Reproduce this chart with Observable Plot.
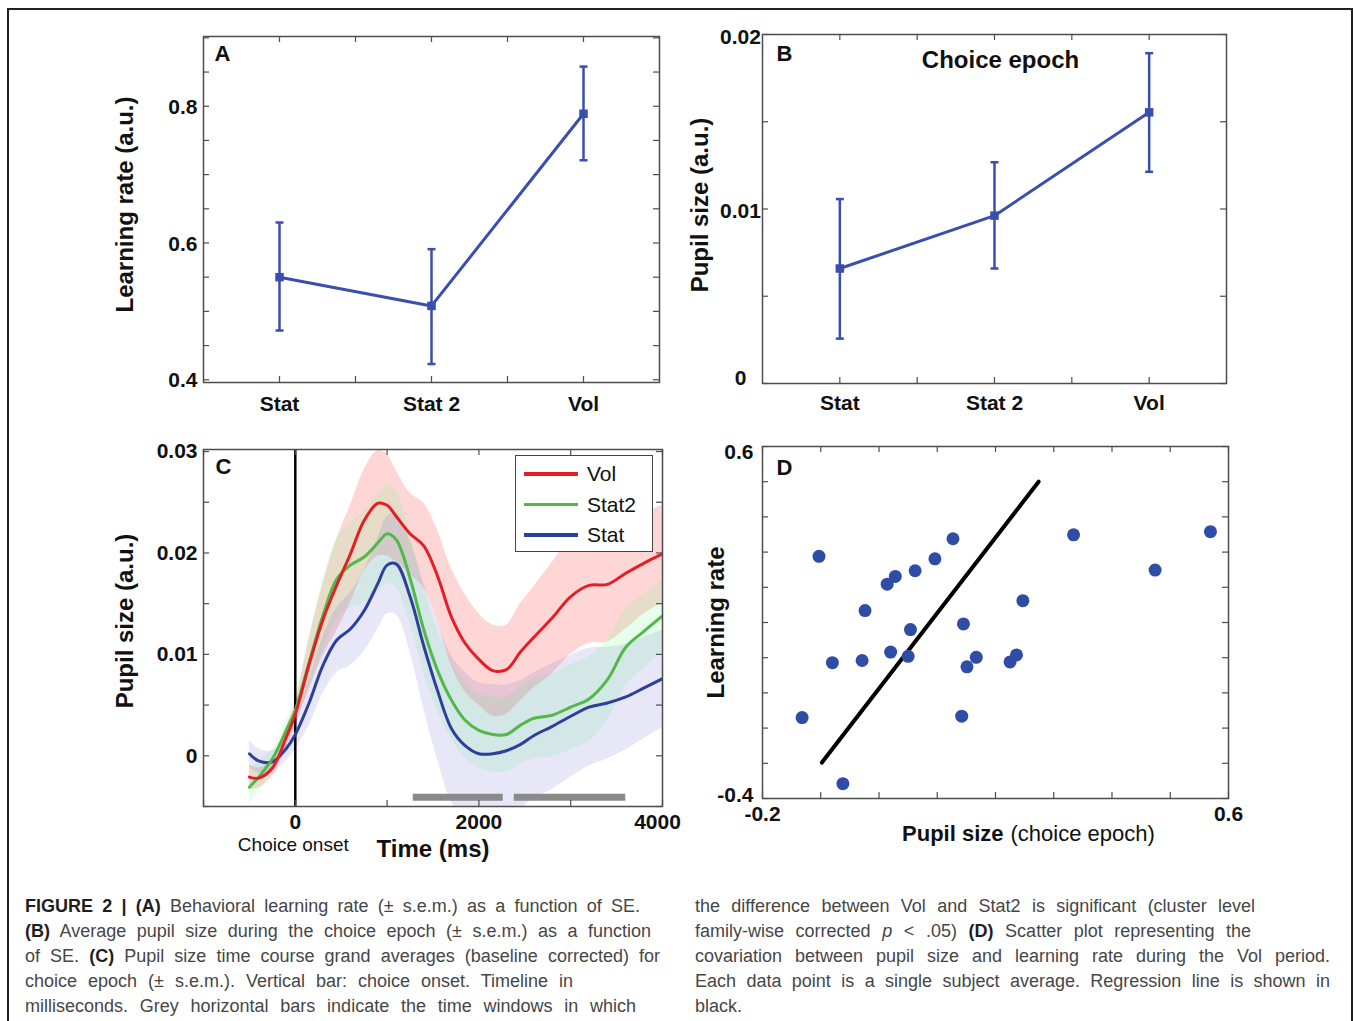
<!DOCTYPE html>
<html>
<head>
<meta charset="utf-8">
<script src="https://cdn.jsdelivr.net/npm/d3@7"></script>
<script src="https://cdn.jsdelivr.net/npm/@observablehq/plot@0.6"></script>
<style>
  html, body { margin: 0; padding: 0; background: #fff; }
  body { width: 1354px; height: 1021px; overflow: hidden; position: relative;
         font-family: "Liberation Sans", Arial, Helvetica, sans-serif; }
  #outer { position: absolute; left: 7px; top: 8px; width: 1346px; height: 1100px;
           border: 2.5px solid #231f20; border-bottom: none; box-sizing: border-box; }
  .panel { position: absolute; }
  .panel svg { overflow: visible; }
  #legendC { position: absolute; left: 515px; top: 455px; width: 138px; height: 97px;
             box-sizing: border-box; border: 1.5px solid #444; background: #fff;
             font-family: "Liberation Sans", Arial, sans-serif; font-size: 21px; color: #111; }
  #legendC .row { position: absolute; left: 0; height: 30px; width: 136px; }
  #legendC .sw { position: absolute; left: 8px; width: 54px; height: 3.5px; top: 13px; }
  #legendC .lb { position: absolute; left: 71px; top: 2px; line-height: 26px; }
  .col { position: absolute; top: 894px; font-family: "Liberation Sans", Arial, Helvetica, sans-serif;
         font-size: 18px; color: #464646; }
  .ln { height: 25px; line-height: 25px; text-align: justify; text-align-last: justify; overflow: visible; }
  .ln b { color: #1e1e1e; }
</style>
</head>
<body>
<div id="outer"></div>
<div id="pA" class="panel" style="left:100px;top:20px;width:580px;height:400px"></div>
<div id="pB" class="panel" style="left:680px;top:20px;width:560px;height:400px"></div>
<div id="pC" class="panel" style="left:100px;top:440px;width:580px;height:430px"></div>
<div id="pD" class="panel" style="left:690px;top:440px;width:560px;height:420px"></div>
<div id="legendC"></div>

<div class="col" style="left:25px">
  <div class="ln" style="width:615px"><b>FIGURE 2 | (A)</b> Behavioral learning rate (± s.e.m.) as a function of SE.</div>
  <div class="ln" style="width:626px"><b>(B)</b> Average pupil size during the choice epoch (± s.e.m.) as a function</div>
  <div class="ln" style="width:635px">of SE. <b>(C)</b> Pupil size time course grand averages (baseline corrected) for</div>
  <div class="ln" style="width:548px">choice epoch (± s.e.m.). Vertical bar: choice onset. Timeline in</div>
  <div class="ln" style="width:611px">milliseconds. Grey horizontal bars indicate the time windows in which</div>
</div>
<div class="col" style="left:695px">
  <div class="ln" style="width:560px">the difference between Vol and Stat2 is significant (cluster level</div>
  <div class="ln" style="width:556px">family-wise corrected <i>p</i> &lt; .05) <b>(D)</b> Scatter plot representing the</div>
  <div class="ln" style="width:635px">covariation between pupil size and learning rate during the Vol period.</div>
  <div class="ln" style="width:635px">Each data point is a single subject average. Regression line is shown in</div>
  <div class="ln" style="text-align:left;text-align-last:left">black.</div>
</div>

<script>
// ---------------- DATA ----------------
// Panels A & B: conditions
const conditions = ["Stat", "Stat 2", "Vol"];
// A: learning rate (mean, upper and lower s.e.m. bounds)
const lrMean  = [0.550, 0.508, 0.789];
const lrUpper = [0.630, 0.591, 0.858];
const lrLower = [0.472, 0.423, 0.721];
// B: pupil size, choice epoch
const psMean  = [0.00659, 0.00962, 0.01554];
const psUpper = [0.01057, 0.01268, 0.01893];
const psLower = [0.00257, 0.00659, 0.01213];

// C: pupil time course (ms) per condition, mean and s.e.m.
const timeMs   = [-500,-400,-250,-100,0,150,300,450,600,750,900,1000,1100,1250,1400,1550,1700,1850,2000,2150,2300,2450,2600,2800,3000,3200,3400,3600,3800,4000];
const volMean  = [-0.0021,-0.0022,-0.0012,0.0018,0.0041,0.0090,0.0134,0.0168,0.0199,0.0232,0.0249,0.0247,0.0236,0.0219,0.0207,0.0177,0.0137,0.0111,0.0095,0.0084,0.0085,0.0102,0.0117,0.0136,0.0157,0.0168,0.0169,0.0180,0.0190,0.0199];
const volSem   = [0.0012,0.0010,0.0008,0.0010,0.0012,0.0025,0.0035,0.0045,0.0048,0.0050,0.0052,0.0050,0.0045,0.0040,0.0042,0.0045,0.0048,0.0048,0.0045,0.0045,0.0044,0.0048,0.0050,0.0055,0.0057,0.0057,0.0057,0.0055,0.0050,0.0048];
const stat2Mean= [-0.0031,-0.0021,-0.0003,0.0025,0.0045,0.0092,0.0138,0.0174,0.0188,0.0196,0.0210,0.0219,0.0213,0.0175,0.0124,0.0084,0.0055,0.0035,0.0025,0.0021,0.0021,0.0030,0.0037,0.0040,0.0048,0.0056,0.0075,0.0107,0.0123,0.0138];
const stat2Sem = [0.0018,0.0015,0.0010,0.0010,0.0012,0.0025,0.0035,0.0040,0.0042,0.0045,0.0048,0.0049,0.0048,0.0045,0.0042,0.0040,0.0038,0.0037,0.0037,0.0037,0.0037,0.0038,0.0040,0.0041,0.0042,0.0042,0.0040,0.0038,0.0037,0.0035];
const statMean = [0.0002,-0.0005,-0.0006,0.0007,0.0021,0.0052,0.0089,0.0114,0.0125,0.0143,0.0170,0.0188,0.0189,0.0157,0.0108,0.0064,0.0027,0.0010,0.0002,0.0002,0.0005,0.0011,0.0020,0.0029,0.0039,0.0048,0.0052,0.0058,0.0067,0.0076];
const statSem  = [0.0013,0.0012,0.0011,0.0012,0.0015,0.0022,0.0028,0.0032,0.0036,0.0040,0.0045,0.0048,0.0050,0.0055,0.0062,0.0068,0.0072,0.0072,0.0070,0.0068,0.0065,0.0063,0.0062,0.0062,0.0060,0.0058,0.0055,0.0052,0.0050,0.0048];
// significant windows (Vol vs Stat2), ms
const sigStart = [1285, 2385];
const sigEnd   = [2265, 3600];
const sigLevel = -0.0041;

// D: scatter, pupil size (choice epoch) vs learning rate
const pupilX = [-0.103,-0.132,-0.080,-0.062,-0.029,-0.024,0.014,0.028,0.020,0.054,0.050,0.062,0.096,0.127,0.145,0.142,0.151,0.167,0.225,0.236,0.247,0.334,0.474,0.569];
const learnY = [0.288,-0.170,-0.014,-0.358,-0.008,0.134,0.209,0.231,0.016,0.080,0.004,0.247,0.281,0.338,0.096,-0.166,-0.026,0.001,-0.012,0.008,0.162,0.349,0.249,0.358];
const regX = [-0.098, 0.274];
const regY = [-0.298, 0.500];

// ---------------- STYLE ----------------
const FONT = '"Liberation Sans", Arial, Helvetica, sans-serif';
const AXC = "#4d4d4d";
const BLUE_AB = "#3a4ead";
const RED = "#e41e26", GREEN = "#52b848", BLUE_C = "#2c3f9b";
const BLUE_D = "#2f4ca6";

const baseStyle = {fontFamily: FONT, fontSize: "21px", fontWeight: "bold", color: "#111",
                   background: "transparent", overflow: "visible"};

function boxTicks(xt, yt, W, H, len = 6) {
  const o = {stroke: AXC, strokeWidth: 1.2};
  return [
    Plot.tickY(yt, {y: d => d, insetRight: W - len, ...o}),
    Plot.tickY(yt, {y: d => d, insetLeft: W - len, ...o}),
    Plot.tickX(xt, {x: d => d, insetTop: H - len, ...o}),
    Plot.tickX(xt, {x: d => d, insetBottom: H - len, ...o})
  ];
}
const capSymbol = {draw(ctx, size) { const r = Math.sqrt(size / Math.PI); ctx.moveTo(-r, 0); ctx.lineTo(r, 0); }};
const fmtSmall = d => (Math.abs(d) < 1e-12 ? "0" : d.toFixed(2));

function yAxes(groups, fmt, pad, anchor) {
  return groups.map(g => Plot.axisY({ticks: g.ticks, tickFormat: fmt, tickSize: 0, tickPadding: pad, label: null,
                                     dy: g.dy || 0, ...(anchor ? {textAnchor: anchor} : {})}));
}

function errorPanel({rows, yDomain, yTicksMinor, yGroups, yFmt, width, height, mL, mR, mT, mB,
                     letter, letterDx, letterDy, yLabel, yLabelDx, yLabelDy, xPad, yPad, yAnchor, extra = []}) {
  const W = width - mL - mR, H = height - mT - mB;
  return Plot.plot({
    width, height, marginLeft: mL, marginRight: mR, marginTop: mT, marginBottom: mB,
    x: {domain: [0.5, 3.5]}, y: {domain: yDomain},
    style: baseStyle,
    marks: [
      Plot.frame({stroke: AXC, strokeWidth: 1.5}),
      ...boxTicks([1, 1.5, 2, 2.5, 3], yTicksMinor, W, H),
      Plot.axisX({ticks: [1, 2, 3], tickFormat: i => conditions[i - 1], tickSize: 0, tickPadding: xPad, label: null}),
      ...yAxes(yGroups, yFmt, yPad, yAnchor),
      Plot.ruleX(rows, {x: "pos", y1: "lo", y2: "hi", stroke: BLUE_AB, strokeWidth: 2.5}),
      Plot.dot(rows, {x: "pos", y: "hi", symbol: capSymbol, r: 4, stroke: BLUE_AB, strokeWidth: 2.5, fill: "none"}),
      Plot.dot(rows, {x: "pos", y: "lo", symbol: capSymbol, r: 4, stroke: BLUE_AB, strokeWidth: 2.5, fill: "none"}),
      Plot.line(rows, {x: "pos", y: "mean", stroke: BLUE_AB, strokeWidth: 3}),
      Plot.dot(rows, {x: "pos", y: "mean", symbol: "square", r: 4.8, fill: BLUE_AB, stroke: "none"}),
      Plot.text([letter], {text: d => d, frameAnchor: "top-left", dx: letterDx, dy: letterDy, fontSize: 22, fontWeight: "bold"}),
      Plot.text([yLabel], {text: d => d, frameAnchor: "left", textAnchor: "middle", lineAnchor: "middle",
                           rotate: -90, dx: yLabelDx, dy: yLabelDy, fontSize: 24, fontWeight: "bold"}),
      ...extra
    ]
  });
}

// ---------------- PANEL A ----------------
const rowsA = conditions.map((c, i) => ({pos: i + 1, mean: lrMean[i], hi: lrUpper[i], lo: lrLower[i]}));
document.getElementById("pA").append(errorPanel({
  rows: rowsA, yDomain: [0.396, 0.902],
  yTicksMinor: d3.range(0.4, 0.9001, 0.05), yGroups: [{ticks: [0.4, 0.6, 0.8], dy: 1}], yFmt: d => d.toFixed(1),
  width: 580, height: 400, mL: 103, mR: 21, mT: 16, mB: 38,
  letter: "A", letterDx: 11, letterDy: 9, yLabel: "Learning rate (a.u.)", yLabelDx: -78, yLabelDy: -5,
  xPad: 13.5, yPad: 6
}));

// ---------------- PANEL B ----------------
const rowsB = conditions.map((c, i) => ({pos: i + 1, mean: psMean[i], hi: psUpper[i], lo: psLower[i]}));
document.getElementById("pB").append(errorPanel({
  rows: rowsB, yDomain: [0, 0.02],
  yTicksMinor: d3.range(0, 0.02001, 0.005),
  yGroups: [{ticks: [0.02], dy: 3}, {ticks: [0.01], dy: 2}, {ticks: [0], dy: -5}], yFmt: fmtSmall,
  width: 560, height: 400, mL: 82, mR: 14, mT: 14, mB: 37,
  letter: "B", letterDx: 14, letterDy: 11, yLabel: "Pupil size (a.u.)", yLabelDx: -62, yLabelDy: -4,
  xPad: 11.5, yPad: 22, yAnchor: "middle",
  extra: [Plot.text(["Choice epoch"], {text: d => d, frameAnchor: "top", dx: 6, dy: 16, fontSize: 24, fontWeight: "bold"})]
}));

// ---------------- PANEL C ----------------
const seriesC = [
  {name: "Vol",   mean: volMean,   sem: volSem,   color: RED,    band: "rgb(255,0,0)",     op: 0.16},
  {name: "Stat2", mean: stat2Mean, sem: stat2Sem, color: GREEN,  band: "rgb(90,255,120)",  op: 0.15},
  {name: "Stat",  mean: statMean,  sem: statSem,  color: BLUE_C, band: "rgb(112,112,208)", op: 0.17}
];
const rowsC = seriesC.flatMap(s => timeMs.map((t, i) => ({series: s.name, t, v: s.mean[i], lo: s.mean[i] - s.sem[i], hi: s.mean[i] + s.sem[i]})));
const sigRows = sigStart.map((s, i) => ({start: s, end: sigEnd[i], y: sigLevel}));
{
  const width = 580, height = 430, mL = 103, mR = 18, mT = 9, mB = 64;
  const W = width - mL - mR, H = height - mT - mB;
  const bandMarks = seriesC.map(s => Plot.areaY(rowsC.filter(r => r.series === s.name),
    {x: "t", y1: "lo", y2: "hi", fill: s.band, fillOpacity: s.op, curve: "catmull-rom", clip: true}));
  const lineMarks = seriesC.slice().reverse().map(s => Plot.line(rowsC.filter(r => r.series === s.name),
    {x: "t", y: "v", stroke: s.color, strokeWidth: 3, curve: "catmull-rom", clip: true}));
  const plotC = Plot.plot({
    width, height, marginLeft: mL, marginRight: mR, marginTop: mT, marginBottom: mB,
    x: {domain: [-1000, 4000]}, y: {domain: [-0.005, 0.0302]},
    style: baseStyle,
    marks: [
      ...bandMarks,
      Plot.ruleX([0], {x: d => d, stroke: "#000", strokeWidth: 2.5}),
      Plot.ruleY(sigRows, {y: "y", x1: "start", x2: "end", stroke: "#8a8a8a", strokeWidth: 7}),
      ...lineMarks,
      Plot.frame({stroke: AXC, strokeWidth: 1.5}),
      ...boxTicks(d3.range(-1000, 4001, 1000), d3.range(-0.005, 0.03001, 0.005), W, H),
      Plot.axisX({ticks: [0, 2000], tickFormat: d => String(d), tickSize: 0, tickPadding: 7.7, label: null}),
      Plot.axisX({ticks: [4000], tickFormat: d => String(d), tickSize: 0, tickPadding: 7.7, label: null, dx: -5}),
      Plot.axisY({ticks: [0, 0.01, 0.02, 0.03], tickFormat: fmtSmall, tickSize: 0, tickPadding: 6, label: null}),
      Plot.text([{t: 0, label: "Choice onset"}], {x: "t", text: "label", frameAnchor: "bottom", lineAnchor: "middle",
                 dx: -2, dy: 38, fontSize: 19, fontWeight: "normal"}),
      Plot.text(["Time (ms)"], {text: d => d, frameAnchor: "bottom", lineAnchor: "middle", dy: 43, fontSize: 24, fontWeight: "bold"}),
      Plot.text(["C"], {text: d => d, frameAnchor: "top-left", dx: 12, dy: 9, fontSize: 22, fontWeight: "bold"}),
      Plot.text(["Pupil size (a.u.)"], {text: d => d, frameAnchor: "left", textAnchor: "middle", lineAnchor: "middle",
                 rotate: -90, dx: -78, dy: -7, fontSize: 24, fontWeight: "bold"})
    ]
  });
  document.getElementById("pC").append(plotC);

  // legend
  const leg = document.getElementById("legendC");
  seriesC.forEach((s, i) => {
    const row = document.createElement("div");
    row.className = "row";
    row.style.top = (3 + i * 30.5) + "px";
    row.innerHTML = `<div class="sw" style="background:${s.color}"></div><div class="lb">${s.name}</div>`;
    leg.append(row);
  });
}

// ---------------- PANEL D ----------------
{
  const width = 560, height = 420, mL = 72, mR = 22, mT = 6, mB = 62;
  const W = width - mL - mR, H = height - mT - mB;
  const pts = pupilX.map((x, i) => ({x, y: learnY[i]}));
  const reg = regX.map((x, i) => ({x, y: regY[i]}));
  const plotD = Plot.plot({
    width, height, marginLeft: mL, marginRight: mR, marginTop: mT, marginBottom: mB,
    x: {domain: [-0.2, 0.6]}, y: {domain: [-0.4, 0.6]},
    style: baseStyle,
    marks: [
      Plot.frame({stroke: AXC, strokeWidth: 1.5}),
      ...boxTicks(d3.range(-0.2, 0.6001, 0.1), d3.range(-0.4, 0.6001, 0.1), W, H),
      Plot.axisX({ticks: [-0.2, 0.6], tickFormat: d => d.toFixed(1), tickSize: 0, tickPadding: 7.7, label: null}),
      ...yAxes([{ticks: [0.6], dy: 6}, {ticks: [-0.4], dy: -3}], d => d.toFixed(1), 9),
      Plot.line(reg, {x: "x", y: "y", stroke: "#000", strokeWidth: 4}),
      Plot.dot(pts, {x: "x", y: "y", r: 6.5, fill: BLUE_D, stroke: "none"}),
      Plot.text(["D"], {text: d => d, frameAnchor: "top-left", dx: 14, dy: 13, fontSize: 22, fontWeight: "bold"}),
      Plot.text(["Learning rate"], {text: d => d, frameAnchor: "left", textAnchor: "middle", lineAnchor: "middle",
                 rotate: -90, dx: -46, dy: 0, fontSize: 24, fontWeight: "bold"}),
      Plot.text(["Pupil size"], {text: d => d, frameAnchor: "bottom", textAnchor: "end", lineAnchor: "middle",
                 dx: 8, dy: 35, fontSize: 22, fontWeight: "bold"}),
      Plot.text(["(choice epoch)"], {text: d => d, frameAnchor: "bottom", textAnchor: "start", lineAnchor: "middle",
                 dx: 15, dy: 35, fontSize: 22, fontWeight: "normal"})
    ]
  });
  document.getElementById("pD").append(plotD);
}
</script>
</body>
</html>
